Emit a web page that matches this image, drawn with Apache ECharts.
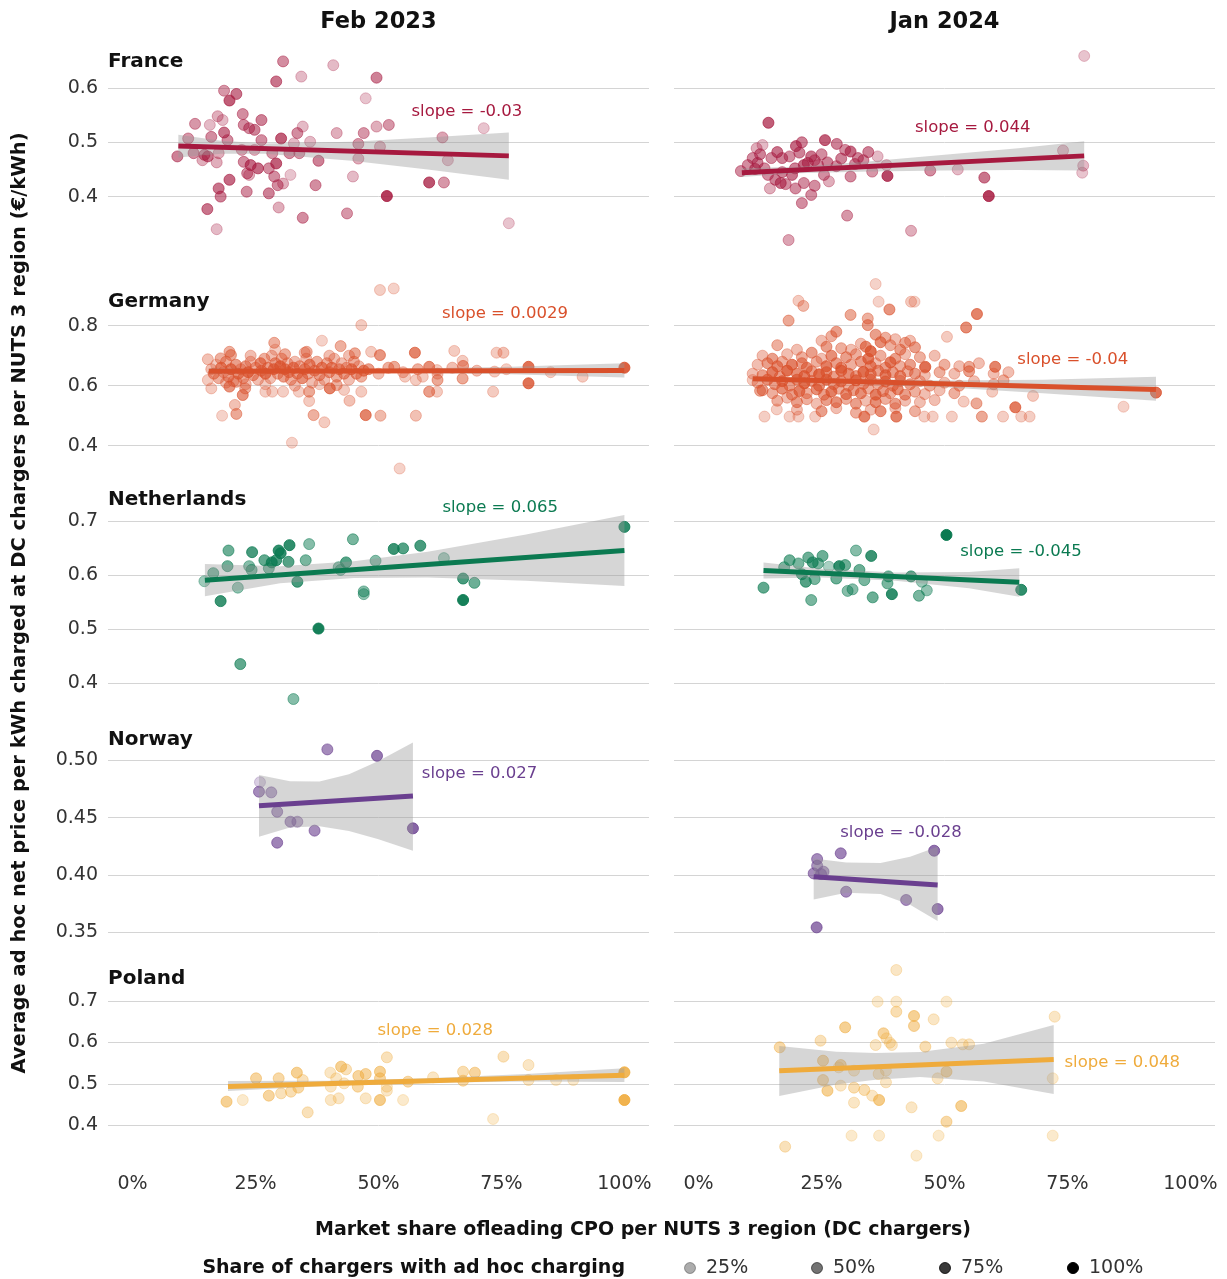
<!DOCTYPE html>
<html><head><meta charset="utf-8">
<script src="https://cdn.jsdelivr.net/npm/echarts@6/dist/echarts.min.js"></script>
<style>html,body{margin:0;padding:0;background:#fff}#c{width:1227px;height:1279px}</style>
</head><body><div id="c"></div>
<script>
const FONT = '"DejaVu Sans", sans-serif';
const countries = ['France','Germany','Netherlands','Norway','Poland'];
const periods = ['Feb 2023','Jan 2024'];
const countryColors = ['#a6193f','#d9502b','#0b7a51','#6a3f8f','#efab3c'];
const xTickValues = [0, 0.25, 0.5, 0.75, 1];
const legendShares = [0.25, 0.5, 0.75, 1];
const legendLabels = ['25%','50%','75%','100%'];

// points: [market share of leading CPO, avg ad hoc price, share of chargers with ad hoc charging]
const franceFeb23 = [
[0.306,0.649,0.44],[0.408,0.642,0.22],[0.292,0.612,0.56],[0.343,0.621,0.22],[0.496,0.619,0.5],
[0.186,0.595,0.39],[0.211,0.589,0.56],[0.197,0.577,0.67],[0.474,0.581,0.17],[0.224,0.552,0.44],
[0.173,0.548,0.28],[0.183,0.541,0.22],[0.262,0.541,0.5],[0.127,0.534,0.39],[0.157,0.532,0.22],
[0.226,0.532,0.44],[0.237,0.526,0.44],[0.248,0.523,0.5],[0.346,0.529,0.22],[0.335,0.517,0.44],
[0.415,0.517,0.28],[0.470,0.517,0.39],[0.496,0.529,0.28],[0.521,0.532,0.39],[0.714,0.526,0.17],
[0.630,0.509,0.33],[0.113,0.507,0.39],[0.160,0.510,0.44],[0.186,0.518,0.56],[0.193,0.504,0.44],
[0.302,0.507,0.67],[0.262,0.504,0.44],[0.361,0.501,0.22],[0.328,0.498,0.22],[0.459,0.497,0.39],
[0.503,0.492,0.28],[0.124,0.480,0.44],[0.091,0.474,0.5],[0.146,0.477,0.5],[0.175,0.480,0.28],
[0.153,0.474,0.56],[0.142,0.467,0.28],[0.171,0.463,0.28],[0.222,0.486,0.33],[0.248,0.486,0.28],
[0.284,0.480,0.39],[0.292,0.461,0.67],[0.277,0.452,0.44],[0.226,0.464,0.44],[0.240,0.458,0.61],
[0.255,0.452,0.61],[0.233,0.443,0.44],[0.237,0.440,0.28],[0.319,0.480,0.44],[0.339,0.480,0.39],
[0.378,0.466,0.5],[0.459,0.470,0.28],[0.641,0.467,0.22],[0.321,0.440,0.17],[0.288,0.437,0.44],
[0.306,0.424,0.28],[0.295,0.421,0.44],[0.197,0.431,0.61],[0.175,0.415,0.56],[0.179,0.400,0.5],
[0.232,0.409,0.44],[0.277,0.406,0.5],[0.372,0.421,0.44],[0.448,0.437,0.22],[0.603,0.426,0.72],
[0.633,0.426,0.39],[0.517,0.401,0.83],[0.152,0.377,0.56],[0.297,0.380,0.28],[0.346,0.361,0.44],
[0.436,0.369,0.39],[0.171,0.340,0.22],[0.765,0.351,0.17]
];
const franceJan24 = [
[0.784,0.659,0.17],[0.142,0.536,0.67],[0.130,0.495,0.22],[0.118,0.489,0.28],[0.110,0.471,0.44],
[0.086,0.447,0.44],[0.198,0.493,0.61],[0.257,0.504,0.67],[0.281,0.497,0.5],[0.298,0.486,0.44],
[0.309,0.483,0.61],[0.324,0.471,0.5],[0.335,0.467,0.44],[0.364,0.474,0.22],[0.382,0.458,0.22],
[0.148,0.471,0.44],[0.170,0.471,0.5],[0.185,0.474,0.44],[0.229,0.474,0.56],[0.236,0.467,0.44],
[0.214,0.458,0.61],[0.243,0.458,0.44],[0.196,0.452,0.5],[0.280,0.456,0.44],[0.115,0.451,0.56],
[0.134,0.452,0.44],[0.141,0.440,0.44],[0.156,0.431,0.5],[0.167,0.425,0.56],[0.177,0.423,0.44],
[0.197,0.415,0.44],[0.145,0.415,0.28],[0.214,0.425,0.44],[0.236,0.420,0.44],[0.229,0.403,0.44],
[0.265,0.428,0.28],[0.309,0.437,0.44],[0.210,0.388,0.44],[0.302,0.365,0.39],[0.353,0.446,0.39],
[0.384,0.438,0.78],[0.471,0.448,0.44],[0.527,0.450,0.22],[0.581,0.435,0.56],[0.590,0.401,0.83],
[0.741,0.485,0.22],[0.782,0.457,0.22],[0.780,0.444,0.17],[0.432,0.337,0.28],[0.183,0.320,0.33],
[0.125,0.478,0.5],[0.160,0.482,0.56],[0.205,0.481,0.5],[0.222,0.462,0.56],[0.250,0.478,0.44],
[0.262,0.463,0.5],[0.290,0.470,0.5],[0.318,0.460,0.44],[0.345,0.482,0.5],[0.120,0.462,0.5],
[0.170,0.445,0.5],[0.190,0.440,0.56],[0.255,0.440,0.44],[0.100,0.458,0.44],[0.210,0.500,0.5]
];
const germanyFeb23 = [
[0.503,0.919,0.2],[0.531,0.924,0.17],[0.465,0.802,0.22],[0.385,0.750,0.17],[0.288,0.743,0.39],
[0.153,0.688,0.28],[0.179,0.691,0.39],[0.197,0.713,0.39],[0.200,0.702,0.44],[0.354,0.713,0.39],
[0.423,0.732,0.39],[0.452,0.708,0.44],[0.485,0.713,0.22],[0.503,0.702,0.56],[0.574,0.710,0.67],
[0.654,0.716,0.22],[0.740,0.710,0.22],[0.754,0.710,0.28],[0.671,0.683,0.22],[0.532,0.663,0.44],
[0.603,0.663,0.61],[0.619,0.652,0.22],[0.672,0.666,0.5],[0.736,0.647,0.22],[0.805,0.663,0.78],
[1.0,0.660,0.89],[0.915,0.630,0.22],[0.554,0.630,0.22],[0.576,0.619,0.22],[0.590,0.630,0.22],
[0.620,0.619,0.44],[0.671,0.624,0.44],[0.805,0.608,0.78],[0.603,0.580,0.5],[0.619,0.580,0.22],
[0.733,0.580,0.22],[0.153,0.619,0.22],[0.160,0.591,0.22],[0.197,0.597,0.56],[0.211,0.613,0.39],
[0.229,0.591,0.39],[0.224,0.569,0.56],[0.208,0.536,0.28],[0.211,0.506,0.44],[0.182,0.500,0.17],
[0.270,0.580,0.2],[0.284,0.580,0.2],[0.306,0.580,0.2],[0.338,0.580,0.2],[0.359,0.580,0.44],
[0.359,0.549,0.22],[0.368,0.502,0.39],[0.390,0.478,0.22],[0.324,0.410,0.17],[0.401,0.591,0.67],
[0.415,0.602,0.39],[0.430,0.586,0.22],[0.441,0.550,0.28],[0.474,0.502,0.67],[0.504,0.500,0.33],
[0.576,0.500,0.28],[0.465,0.580,0.22],[0.543,0.324,0.17],
[0.16,0.655,0.3],[0.165,0.64,0.5],[0.17,0.67,0.2],[0.175,0.625,0.4],[0.18,0.66,0.6],[0.185,0.645,0.3],
[0.19,0.68,0.4],[0.195,0.63,0.5],[0.2,0.655,0.7],[0.205,0.615,0.3],[0.21,0.67,0.5],[0.215,0.64,0.6],
[0.22,0.655,0.3],[0.225,0.625,0.4],[0.23,0.665,0.5],[0.235,0.645,0.7],[0.24,0.68,0.3],[0.245,0.635,0.5],
[0.25,0.66,0.4],[0.255,0.62,0.3],[0.26,0.675,0.6],[0.262,0.65,0.5],[0.268,0.69,0.4],[0.27,0.64,0.7],
[0.275,0.66,0.5],[0.28,0.625,0.3],[0.283,0.7,0.3],[0.287,0.655,0.6],[0.29,0.675,0.5],[0.295,0.64,0.4],
[0.3,0.665,0.7],[0.303,0.69,0.4],[0.307,0.63,0.5],[0.31,0.655,0.6],[0.315,0.675,0.3],[0.318,0.645,0.5],
[0.322,0.62,0.4],[0.327,0.66,0.6],[0.33,0.68,0.3],[0.335,0.64,0.5],[0.34,0.665,0.4],[0.345,0.625,0.6],
[0.35,0.655,0.5],[0.353,0.69,0.3],[0.357,0.64,0.4],[0.36,0.67,0.6],[0.365,0.61,0.3],[0.37,0.65,0.5],
[0.375,0.68,0.4],[0.38,0.635,0.5],[0.385,0.66,0.6],[0.39,0.62,0.3],[0.395,0.675,0.4],[0.4,0.645,0.5],
[0.405,0.66,0.6],[0.41,0.69,0.3],[0.415,0.63,0.4],[0.42,0.655,0.5],[0.425,0.675,0.3],[0.43,0.64,0.5],
[0.435,0.66,0.4],[0.44,0.62,0.3],[0.445,0.655,0.6],[0.45,0.68,0.4],[0.455,0.64,0.5],[0.46,0.665,0.3],
[0.465,0.63,0.4],[0.47,0.65,0.6],[0.19,0.61,0.3],[0.23,0.605,0.3],[0.27,0.605,0.2],[0.33,0.6,0.3],
[0.38,0.605,0.2],[0.29,0.72,0.2],[0.24,0.7,0.3],[0.31,0.705,0.4],[0.35,0.71,0.3],[0.4,0.7,0.3],
[0.44,0.7,0.3],[0.5,0.64,0.3],[0.52,0.66,0.4],[0.48,0.655,0.5],[0.55,0.645,0.3],[0.58,0.655,0.4],
[0.62,0.64,0.3],[0.65,0.66,0.3],[0.7,0.65,0.3],[0.76,0.655,0.2],[0.85,0.645,0.2]
];
const germanyJan24 = [
[0.360,0.939,0.17],[0.203,0.883,0.22],[0.213,0.866,0.33],[0.366,0.880,0.17],[0.432,0.880,0.22],[0.439,0.880,0.17],
[0.388,0.854,0.56],[0.183,0.817,0.44],[0.309,0.836,0.44],[0.344,0.824,0.39],[0.344,0.802,0.5],
[0.566,0.839,0.67],[0.544,0.794,0.61],[0.505,0.763,0.22],[0.420,0.743,0.44],[0.461,0.663,0.67],
[0.603,0.663,0.67],[0.550,0.663,0.44],[0.864,0.530,0.17],[0.930,0.577,0.78],[0.644,0.528,0.72],
[0.680,0.566,0.22],[0.673,0.497,0.2],[0.656,0.497,0.2],[0.619,0.497,0.2],[0.576,0.497,0.44],
[0.515,0.497,0.2],[0.476,0.497,0.2],[0.459,0.497,0.2],[0.402,0.497,0.67],[0.337,0.497,0.67],
[0.356,0.454,0.17],[0.134,0.497,0.2],[0.185,0.497,0.2],[0.203,0.497,0.2],[0.237,0.497,0.2],
[0.159,0.521,0.2],[0.110,0.619,0.22],[0.125,0.583,0.44],[0.597,0.580,0.22],[0.565,0.541,0.44],[0.539,0.547,0.22],
[0.27,0.765,0.4],[0.25,0.75,0.3],[0.28,0.78,0.5],[0.36,0.77,0.5],[0.38,0.76,0.4],[0.37,0.745,0.6],[0.4,0.755,0.3],[0.33,0.74,0.3],[0.43,0.75,0.3],
[0.16,0.735,0.4],[0.2,0.72,0.3],[0.26,0.73,0.5],[0.29,0.725,0.4],[0.34,0.73,0.6],[0.35,0.715,0.8],[0.39,0.735,0.4],[0.41,0.72,0.5],[0.44,0.728,0.5],[0.31,0.72,0.3],
[0.13,0.7,0.3],[0.15,0.69,0.5],[0.18,0.705,0.3],[0.21,0.695,0.4],[0.23,0.71,0.5],[0.25,0.69,0.3],[0.27,0.7,0.6],[0.3,0.695,0.5],[0.32,0.705,0.4],[0.345,0.69,0.7],[0.37,0.7,0.4],[0.4,0.69,0.5],[0.42,0.705,0.3],[0.45,0.695,0.4],[0.48,0.7,0.3],
[0.12,0.67,0.3],[0.14,0.675,0.5],[0.16,0.665,0.6],[0.17,0.68,0.4],[0.19,0.67,0.7],[0.21,0.675,0.5],[0.22,0.66,0.6],[0.24,0.68,0.4],[0.26,0.665,0.7],[0.28,0.675,0.5],[0.29,0.66,0.6],[0.31,0.67,0.4],[0.33,0.68,0.5],[0.35,0.665,0.6],[0.36,0.675,0.3],[0.38,0.66,0.5],[0.39,0.678,0.7],[0.41,0.665,0.4],[0.43,0.67,0.5],[0.46,0.66,0.3],[0.5,0.67,0.4],[0.53,0.665,0.3],[0.57,0.675,0.3],
[0.11,0.64,0.3],[0.13,0.635,0.5],[0.15,0.645,0.7],[0.165,0.63,0.5],[0.18,0.65,0.8],[0.2,0.64,0.6],[0.215,0.632,0.7],[0.23,0.648,0.5],[0.245,0.638,0.8],[0.26,0.645,0.6],[0.275,0.63,0.5],[0.29,0.65,0.7],[0.305,0.64,0.6],[0.32,0.632,0.5],[0.335,0.646,0.8],[0.35,0.638,0.6],[0.365,0.65,0.5],[0.38,0.635,0.7],[0.395,0.645,0.5],[0.41,0.632,0.6],[0.425,0.648,0.4],[0.44,0.64,0.5],[0.46,0.635,0.3],[0.49,0.645,0.4],[0.52,0.64,0.3],[0.55,0.648,0.5],[0.6,0.64,0.3],[0.63,0.645,0.3],
[0.12,0.61,0.4],[0.14,0.62,0.6],[0.155,0.605,0.5],[0.17,0.615,0.7],[0.185,0.6,0.5],[0.2,0.62,0.6],[0.215,0.608,0.8],[0.23,0.616,0.5],[0.245,0.6,0.6],[0.26,0.62,0.7],[0.275,0.605,0.5],[0.29,0.614,0.6],[0.305,0.6,0.4],[0.32,0.618,0.7],[0.335,0.606,0.5],[0.35,0.62,0.6],[0.365,0.605,0.4],[0.38,0.614,0.6],[0.395,0.6,0.5],[0.41,0.616,0.4],[0.43,0.605,0.5],[0.45,0.615,0.3],[0.47,0.6,0.4],[0.5,0.61,0.3],[0.53,0.6,0.4],[0.56,0.615,0.3],[0.6,0.605,0.3],[0.62,0.618,0.4],
[0.13,0.585,0.5],[0.15,0.575,0.4],[0.17,0.59,0.6],[0.19,0.57,0.5],[0.205,0.582,0.7],[0.22,0.575,0.4],[0.24,0.588,0.6],[0.255,0.57,0.5],[0.27,0.58,0.7],[0.285,0.59,0.4],[0.3,0.572,0.6],[0.315,0.585,0.5],[0.33,0.575,0.6],[0.345,0.59,0.4],[0.36,0.57,0.7],[0.375,0.582,0.5],[0.39,0.575,0.4],[0.405,0.588,0.6],[0.42,0.57,0.5],[0.44,0.58,0.4],[0.46,0.572,0.3],[0.49,0.585,0.3],[0.52,0.575,0.4],
[0.16,0.55,0.4],[0.18,0.56,0.3],[0.2,0.545,0.5],[0.22,0.555,0.4],[0.24,0.54,0.3],[0.26,0.552,0.5],[0.28,0.545,0.6],[0.3,0.556,0.4],[0.32,0.54,0.5],[0.34,0.55,0.3],[0.36,0.545,0.6],[0.38,0.556,0.4],[0.4,0.54,0.5],[0.42,0.55,0.3],[0.45,0.545,0.3],[0.48,0.552,0.3],
[0.2,0.52,0.3],[0.25,0.515,0.5],[0.28,0.525,0.3],[0.32,0.51,0.4],[0.35,0.52,0.3],[0.37,0.515,0.6],[0.4,0.525,0.3],[0.44,0.515,0.4]
];
const netherlandsFeb23 = [
[1.0,0.690,0.83],[0.448,0.667,0.5],[0.359,0.658,0.44],[0.319,0.656,0.83],[0.297,0.646,0.83],[0.301,0.641,0.83],
[0.195,0.646,0.56],[0.243,0.643,0.72],[0.531,0.649,0.78],[0.550,0.650,0.67],[0.585,0.655,0.72],
[0.268,0.628,0.61],[0.283,0.624,0.78],[0.292,0.628,0.72],[0.317,0.625,0.67],[0.352,0.628,0.5],
[0.193,0.617,0.56],[0.237,0.617,0.44],[0.242,0.610,0.5],[0.277,0.613,0.5],[0.164,0.604,0.5],
[0.146,0.589,0.33],[0.214,0.577,0.39],[0.335,0.588,0.72],[0.419,0.615,0.44],[0.423,0.610,0.44],
[0.434,0.624,0.67],[0.494,0.627,0.44],[0.633,0.632,0.33],[0.470,0.570,0.44],[0.470,0.565,0.39],
[0.672,0.594,0.72],[0.695,0.586,0.56],[0.672,0.554,0.95],[0.179,0.552,0.78],[0.378,0.501,0.95],
[0.219,0.435,0.61],[0.327,0.370,0.44]
];
const netherlandsJan24 = [
[0.504,0.675,1.0],[0.320,0.646,0.44],[0.351,0.636,0.78],[0.185,0.628,0.56],[0.223,0.633,0.56],
[0.252,0.636,0.56],[0.203,0.622,0.5],[0.232,0.624,0.67],[0.243,0.622,0.5],[0.286,0.617,0.83],
[0.298,0.619,0.56],[0.265,0.616,0.28],[0.174,0.615,0.5],[0.327,0.610,0.56],[0.210,0.602,0.61],
[0.218,0.588,0.67],[0.236,0.593,0.5],[0.280,0.594,0.56],[0.337,0.591,0.5],[0.386,0.598,0.56],
[0.384,0.585,0.5],[0.432,0.598,0.67],[0.454,0.588,0.33],[0.132,0.577,0.61],[0.303,0.571,0.44],
[0.313,0.574,0.44],[0.393,0.565,0.83],[0.354,0.559,0.56],[0.229,0.554,0.5],[0.448,0.562,0.5],
[0.464,0.572,0.39],[0.656,0.573,0.83]
];
const norwayFeb23 = [
[0.396,0.5096,0.56],[0.497,0.504,0.67],[0.259,0.481,0.17],[0.257,0.4727,0.56],[0.282,0.4721,0.44],
[0.294,0.4552,0.5],[0.321,0.4465,0.5],[0.335,0.4465,0.39],[0.370,0.4387,0.56],[0.294,0.4282,0.61],
[0.570,0.4407,0.78]
];
const norwayJan24 = [
[0.241,0.4139,0.56],[0.241,0.4081,0.5],[0.254,0.4029,0.5],[0.234,0.4014,0.56],[0.249,0.4008,0.5],
[0.289,0.4189,0.61],[0.479,0.4212,0.72],[0.300,0.3854,0.56],[0.422,0.3782,0.56],[0.486,0.3703,0.67],
[0.240,0.3543,0.67]
];
const polandFeb23 = [
[0.191,0.4574,0.5],[0.224,0.4614,0.17],[0.251,0.5137,0.44],[0.297,0.5137,0.39],[0.277,0.4719,0.44],
[0.302,0.4775,0.28],[0.322,0.4815,0.33],[0.334,0.5273,0.5],[0.346,0.5096,0.28],[0.337,0.4912,0.39],
[0.356,0.4317,0.28],[0.402,0.5273,0.22],[0.424,0.5418,0.5],[0.434,0.5353,0.28],[0.414,0.5137,0.22],
[0.403,0.4936,0.22],[0.403,0.4614,0.22],[0.419,0.4655,0.22],[0.430,0.5016,0.22],[0.459,0.5193,0.44],
[0.474,0.5241,0.44],[0.458,0.4936,0.39],[0.474,0.4655,0.22],[0.503,0.5297,0.5],[0.503,0.5137,0.44],
[0.517,0.5643,0.28],[0.517,0.4936,0.22],[0.517,0.4840,0.22],[0.503,0.4614,0.56],[0.550,0.4614,0.17],
[0.560,0.5056,0.39],[0.611,0.5161,0.22],[0.672,0.5297,0.33],[0.672,0.5080,0.39],[0.696,0.5273,0.44],
[0.733,0.4157,0.17],[0.754,0.5659,0.28],[0.805,0.5458,0.22],[0.805,0.5096,0.22],[0.861,0.5096,0.17],
[0.896,0.5096,0.17],[1.0,0.5281,0.83],[1.0,0.4614,0.89]
];
const polandJan24 = [
[0.402,0.7747,0.22],[0.364,0.6984,0.17],[0.402,0.6984,0.17],[0.504,0.6984,0.17],[0.402,0.6743,0.33],
[0.438,0.6639,0.5],[0.438,0.6398,0.44],[0.478,0.6558,0.22],[0.724,0.6622,0.22],[0.298,0.6365,0.5],
[0.248,0.6044,0.28],[0.376,0.6221,0.44],[0.382,0.6100,0.22],[0.389,0.5996,0.22],[0.360,0.5940,0.22],
[0.393,0.5940,0.22],[0.461,0.5900,0.33],[0.514,0.5996,0.22],[0.537,0.5956,0.22],[0.550,0.5956,0.22],
[0.165,0.5884,0.39],[0.253,0.5562,0.44],[0.289,0.5458,0.44],[0.285,0.5402,0.22],[0.316,0.5321,0.22],
[0.366,0.5241,0.22],[0.381,0.5321,0.22],[0.504,0.5297,0.44],[0.486,0.5137,0.22],[0.720,0.5137,0.17],
[0.253,0.5096,0.39],[0.381,0.5040,0.22],[0.289,0.4960,0.22],[0.316,0.4912,0.33],[0.337,0.4855,0.33],
[0.262,0.4839,0.5],[0.353,0.4719,0.22],[0.367,0.4614,0.56],[0.316,0.4550,0.22],[0.433,0.4438,0.22],
[0.534,0.4470,0.5],[0.504,0.4092,0.39],[0.311,0.3755,0.17],[0.367,0.3755,0.17],[0.488,0.3755,0.17],
[0.720,0.3755,0.17],[0.176,0.3490,0.28],[0.443,0.3273,0.17]
];

// regression lines: [x start, y start, x end, y end]
const fitFranceFeb23 = [0.093, 0.493, 0.765, 0.475];
const fitFranceJan24 = [0.088, 0.444, 0.784, 0.475];
const fitGermanyFeb23 = [0.155, 0.6485, 1.0, 0.651];
const fitGermanyJan24 = [0.11, 0.623, 0.93, 0.587];
const fitNetherlandsFeb23 = [0.147, 0.591, 1.0, 0.646];
const fitNetherlandsJan24 = [0.132, 0.609, 0.652, 0.587];
const fitNorwayFeb23 = [0.257, 0.4605, 0.57, 0.4689];
const fitNorwayJan24 = [0.234, 0.3985, 0.486, 0.3912];
const fitPolandFeb23 = [0.194, 0.494, 1.0, 0.521];
const fitPolandJan24 = [0.164, 0.532, 0.722, 0.559];

// confidence bands read at a few x positions
const bandFranceFeb23 = {x:[0.093,0.18,0.27,0.445,0.6,0.765], hi:[0.514,0.503,0.498,0.501,0.509,0.518], lo:[0.472,0.479,0.479,0.466,0.450,0.431]};
const bandFranceJan24 = {x:[0.088,0.2,0.35,0.5,0.65,0.784], hi:[0.452,0.455,0.465,0.477,0.489,0.502], lo:[0.436,0.443,0.446,0.448,0.449,0.448]};
const bandGermanyFeb23 = {x:[0.155,0.3,0.5,0.75,1.0], hi:[0.658,0.654,0.656,0.662,0.675], lo:[0.639,0.645,0.643,0.639,0.627]};
const bandGermanyJan24 = {x:[0.11,0.3,0.5,0.7,0.93], hi:[0.631,0.622,0.617,0.620,0.630], lo:[0.615,0.607,0.595,0.575,0.550]};
const bandNetherlandsFeb23 = {x:[0.147,0.3,0.45,0.6,0.8,1.0], hi:[0.621,0.617,0.626,0.644,0.676,0.712], lo:[0.561,0.585,0.595,0.596,0.590,0.580]};
const bandNetherlandsJan24 = {x:[0.132,0.25,0.4,0.55,0.652], hi:[0.624,0.612,0.605,0.606,0.613], lo:[0.594,0.596,0.590,0.576,0.560]};
const bandNorwayFeb23 = {x:[0.257,0.32,0.38,0.44,0.5,0.57], hi:[0.4872,0.4818,0.4815,0.4880,0.4995,0.5157], lo:[0.4334,0.4415,0.4425,0.4385,0.4313,0.4212]};
const bandNorwayJan24 = {x:[0.234,0.3,0.37,0.43,0.486], hi:[0.4145,0.4110,0.4105,0.4160,0.4247], lo:[0.3787,0.3845,0.3835,0.3740,0.3598]};
const bandPolandFeb23 = {x:[0.194,0.4,0.6,0.8,1.0], hi:[0.507,0.508,0.514,0.524,0.538], lo:[0.483,0.496,0.503,0.506,0.505]};
const bandPolandJan24 = {x:[0.164,0.28,0.36,0.45,0.58,0.722], hi:[0.5916,0.578,0.5745,0.577,0.597,0.6422], lo:[0.4711,0.4985,0.5105,0.517,0.506,0.4759]};

const slopeTexts = ['-0.03','0.044','0.0029','-0.04','0.065','-0.045','0.027','-0.028','0.028','0.048'];
// label anchor (data coords, left edge)
const slopeLabelPos = [[0.567,0.556],[0.44,0.526],[0.629,0.839],[0.648,0.686],[0.63,0.725],[0.532,0.643],[0.588,0.488],[0.288,0.4367],[0.498,0.628],[0.744,0.551]];

const panelPoints = [franceFeb23, franceJan24, germanyFeb23, germanyJan24, netherlandsFeb23, netherlandsJan24, norwayFeb23, norwayJan24, polandFeb23, polandJan24];
const panelFits = [fitFranceFeb23, fitFranceJan24, fitGermanyFeb23, fitGermanyJan24, fitNetherlandsFeb23, fitNetherlandsJan24, fitNorwayFeb23, fitNorwayJan24, fitPolandFeb23, fitPolandJan24];
const panelBands = [bandFranceFeb23, bandFranceJan24, bandGermanyFeb23, bandGermanyJan24, bandNetherlandsFeb23, bandNetherlandsJan24, bandNorwayFeb23, bandNorwayJan24, bandPolandFeb23, bandPolandJan24];

// layout
const rowLayout = [
  {top:33.7, height:217.2, min:0.3, max:0.7, interval:0.1, dec:1, stripY:62},
  {top:265.7, height:240, min:0.2, max:1.0, interval:0.2, dec:1, stripY:302},
  {top:467.7, height:269, min:0.3, max:0.8, interval:0.1, dec:1, stripY:500},
  {top:703.1, height:286.5, min:0.3, max:0.55, interval:0.05, dec:2, stripY:740},
  {top:959.5, height:207.5, min:0.3, max:0.8, interval:0.1, dec:1, stripY:979}
];
const colLayout = [{left:108, width:541}, {left:674, width:541}];

const grid = [], xAxis = [], yAxis = [], series = [], scatterIdx = [];
for (let r = 0; r < 5; r++) {
  for (let c = 0; c < 2; c++) {
    const i = r * 2 + c;
    const R = rowLayout[r], C = colLayout[c];
    const color = countryColors[r];
    grid.push({left: C.left, width: C.width, top: R.top, height: R.height, containLabel: false});
    xAxis.push({
      type: 'value', gridIndex: i, min: -0.05, max: 1.05,
      axisLine: {show: false}, axisTick: {show: false}, splitLine: {show: false},
      axisLabel: {
        show: r === 4, customValues: xTickValues, margin: 8,
        fontFamily: FONT, fontSize: 19, color: '#333',
        formatter: v => Math.round(v * 100) + '%'
      }
    });
    yAxis.push({
      type: 'value', gridIndex: i, min: R.min, max: R.max, interval: R.interval,
      axisLine: {show: false}, axisTick: {show: false},
      splitLine: {show: true, showMinLine: false, showMaxLine: false, lineStyle: {color: '#d4d4d4', width: 1}},
      axisLabel: {
        show: c === 0, showMinLabel: false, showMaxLabel: false, margin: 10,
        fontFamily: FONT, fontSize: 19, color: '#333',
        formatter: v => v.toFixed(R.dec)
      }
    });
    scatterIdx.push(series.length);
    series.push({
      type: 'scatter', xAxisIndex: i, yAxisIndex: i, z: 2, silent: true,
      symbol: 'circle', symbolSize: 11,
      itemStyle: {color: color, borderColor: color, borderWidth: 1},
      data: panelPoints[i]
    });
    const band = panelBands[i];
    series.push({
      type: 'custom', xAxisIndex: i, yAxisIndex: i, z: 3, silent: true, clip: false,
      data: [[band.x[0], band.hi[0]]],
      renderItem: (params, api) => {
        const pts = [];
        for (let k = 0; k < band.x.length; k++) pts.push(api.coord([band.x[k], band.hi[k]]));
        for (let k = band.x.length - 1; k >= 0; k--) pts.push(api.coord([band.x[k], band.lo[k]]));
        return {type: 'polygon', shape: {points: pts}, style: {fill: 'rgba(153,153,153,0.4)'}};
      }
    });
    const f = panelFits[i];
    series.push({
      type: 'line', xAxisIndex: i, yAxisIndex: i, z: 4, silent: true, symbol: 'none',
      lineStyle: {color: color, width: 5},
      data: [[f[0], f[1]], [f[2], f[3]]]
    });
    const txt = 'slope = ' + slopeTexts[i];
    series.push({
      type: 'custom', xAxisIndex: i, yAxisIndex: i, z: 5, silent: true, clip: false,
      data: [slopeLabelPos[i]],
      renderItem: (params, api) => {
        const p = api.coord([api.value(0), api.value(1)]);
        return {type: 'text', x: p[0], y: p[1], style: {text: txt, fill: color, fontFamily: FONT, fontSize: 16.5, align: 'left', verticalAlign: 'middle'}};
      }
    });
  }
}

const graphic = [];
periods.forEach((p, c) => {
  graphic.push({type: 'text', x: colLayout[c].left + colLayout[c].width / 2, y: 22,
    style: {text: p, fontFamily: FONT, fontWeight: 'bold', fontSize: 22.5, fill: '#111', align: 'center', verticalAlign: 'middle'}});
});
countries.forEach((name, r) => {
  graphic.push({type: 'text', x: 108, y: rowLayout[r].stripY,
    style: {text: name, fontFamily: FONT, fontWeight: 'bold', fontSize: 20, fill: '#111', align: 'left', verticalAlign: 'middle'}});
});
graphic.push({type: 'text', x: 20, y: 603, rotation: Math.PI / 2,
  style: {text: 'Average ad hoc net price per kWh charged at DC chargers per NUTS 3 region (€/kWh)', fontFamily: FONT, fontWeight: 'bold', fontSize: 19.5, fill: '#111', align: 'center', verticalAlign: 'middle'}});
graphic.push({type: 'text', x: 643, y: 1230,
  style: {text: 'Market share ofleading CPO per NUTS 3 region (DC chargers)', fontFamily: FONT, fontWeight: 'bold', fontSize: 19, fill: '#111', align: 'center', verticalAlign: 'middle'}});
graphic.push({type: 'text', x: 625, y: 1268,
  style: {text: 'Share of chargers with ad hoc charging', fontFamily: FONT, fontWeight: 'bold', fontSize: 19, fill: '#111', align: 'right', verticalAlign: 'middle'}});
const legendX = [690, 817, 945, 1073];
legendShares.forEach((s, k) => {
  graphic.push({type: 'circle', shape: {cx: legendX[k], cy: 1268, r: 5.5},
    style: {fill: '#000', stroke: '#000', lineWidth: 1, opacity: 0.1 + 0.9 * s}});
  graphic.push({type: 'text', x: legendX[k] + 16, y: 1268,
    style: {text: legendLabels[k], fontFamily: FONT, fontSize: 19, fill: '#333', align: 'left', verticalAlign: 'middle'}});
});

const chart = echarts.init(document.getElementById('c'));
chart.setOption({
  backgroundColor: '#ffffff',
  animation: false,
  grid, xAxis, yAxis, series, graphic,
  visualMap: {show: false, type: 'continuous', dimension: 2, min: 0, max: 1, seriesIndex: scatterIdx, inRange: {opacity: [0.1, 1]}}
});
</script>
</body></html>
